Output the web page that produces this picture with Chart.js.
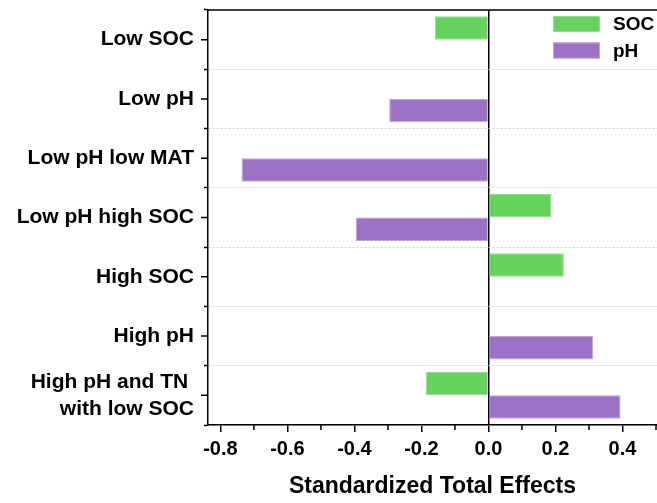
<!DOCTYPE html>
<html>
<head>
<meta charset="utf-8">
<script src="https://cdn.jsdelivr.net/npm/chart.js@4.4.1/dist/chart.umd.min.js"></script>
<style>
  html, body { margin: 0; padding: 0; background: #fff; }
  canvas { display: block; }
</style>
</head>
<body>
<canvas id="effectsChart" width="657" height="503"></canvas>
<script>
// categories top to bottom
const categories = ['Low SOC', 'Low pH', 'Low pH low MAT', 'Low pH high SOC', 'High SOC', 'High pH', ['High pH and TN ', 'with low SOC']];
const socValues = [-0.16, null, null, 0.188, 0.225, null, -0.187];
const phValues = [null, -0.296, -0.737, -0.396, null, 0.313, 0.394];
const seriesNames = ['SOC', 'pH'];
const xMin = -0.837, xMax = 0.503;

const fontFamily = "'Liberation Sans', Arial, sans-serif";
Chart.defaults.color = '#000';
Chart.defaults.font.family = fontFamily;

// top frame line, minor x ticks, major y ticks
const extraTicks = {
    id: 'extraTicks',
    afterDraw(chart) {
        const { ctx, chartArea, scales: { x, y } } = chart;
        ctx.save();
        ctx.strokeStyle = '#000';
        ctx.lineWidth = 1.5;
        ctx.beginPath();
        for (let k = -7; k <= 5; k += 2) {
            const px = x.getPixelForValue(k / 10);
            if (px < chartArea.left || px > chartArea.right) continue;
            ctx.moveTo(px, x.top);
            ctx.lineTo(px, x.top + 5);
        }
        y.ticks.forEach((t, i) => {
            const py = y.getPixelForTick(i);
            ctx.moveTo(y.right, py);
            ctx.lineTo(y.right - 7, py);
        });
        ctx.moveTo(chartArea.left, chartArea.top);
        ctx.lineTo(chartArea.right, chartArea.top);
        ctx.stroke();
        ctx.restore();
    }
};

// legend in the top right corner of the plot
const cornerLegend = {
    id: 'cornerLegend',
    afterDraw(chart) {
        const { ctx, chartArea } = chart;
        ctx.save();
        chart.data.datasets.forEach((ds, i) => {
            const bx = chartArea.right - 104;
            const by = chartArea.top + 6 + i * 26.5;
            ctx.fillStyle = ds.backgroundColor;
            ctx.fillRect(bx, by, 47, 16);
            ctx.strokeStyle = ds.borderColor;
            ctx.lineWidth = 1;
            ctx.strokeRect(bx + 0.5, by + 0.5, 46, 15);
            ctx.fillStyle = '#000';
            ctx.font = 'bold 19px ' + fontFamily;
            ctx.textBaseline = 'middle';
            ctx.fillText(ds.label, bx + 60, by + 9);
        });
        ctx.restore();
    }
};

new Chart(document.getElementById('effectsChart'), {
    type: 'bar',
    data: {
        labels: categories,
        datasets: [
            { label: seriesNames[0], data: socValues, backgroundColor: '#66d35f', borderColor: '#8fe08a', borderWidth: 1 },
            { label: seriesNames[1], data: phValues, backgroundColor: '#9b72c6', borderColor: '#bea5dc', borderWidth: 1 }
        ]
    },
    options: {
        indexAxis: 'y',
        responsive: false,
        animation: false,
        categoryPercentage: 0.79,
        barPercentage: 1.0,
        layout: { padding: { top: 10, left: 0, right: 0, bottom: 0 } },
        plugins: { legend: { display: false }, tooltip: { enabled: false } },
        scales: {
            x: {
                min: xMin,
                max: xMax,
                afterFit: (scale) => {
                    scale.height = 78;
                    scale.paddingLeft = 0;
                    scale.paddingRight = 0;
                },
                ticks: {
                    stepSize: 0.2,
                    includeBounds: false,
                    padding: 5,
                    font: { size: 20, weight: 'bold' },
                    callback: (v) => v.toFixed(1)
                },
                grid: {
                    color: (c) => (c.tick && Math.abs(c.tick.value) < 1e-9) ? '#000' : 'rgba(0,0,0,0)',
                    lineWidth: 1.5,
                    tickColor: '#000',
                    tickLength: 7,
                    tickWidth: 1.5
                },
                border: { color: '#000', width: 1.5 },
                title: {
                    display: true,
                    text: 'Standardized Total Effects',
                    font: { size: 23, weight: 'bold' },
                    padding: { top: 0, bottom: 3 }
                }
            },
            y: {
                afterFit: (scale) => {
                    scale.width = 208;
                    scale.paddingTop = 0;
                    scale.paddingBottom = 0;
                },
                ticks: {
                    autoSkip: false,
                    padding: 10,
                    font: { size: 21, weight: 'bold', lineHeight: 1.3 }
                },
                grid: {
                    offset: true,
                    color: '#d4d4d4',
                    lineWidth: 1,
                    tickColor: '#000',
                    tickLength: 4,
                    tickWidth: 1.5,
                    tickBorderDash: []
                },
                border: { color: '#000', width: 1.5, dash: [2, 2] }
            }
        }
    },
    plugins: [extraTicks, cornerLegend]
});
</script>
</body>
</html>
